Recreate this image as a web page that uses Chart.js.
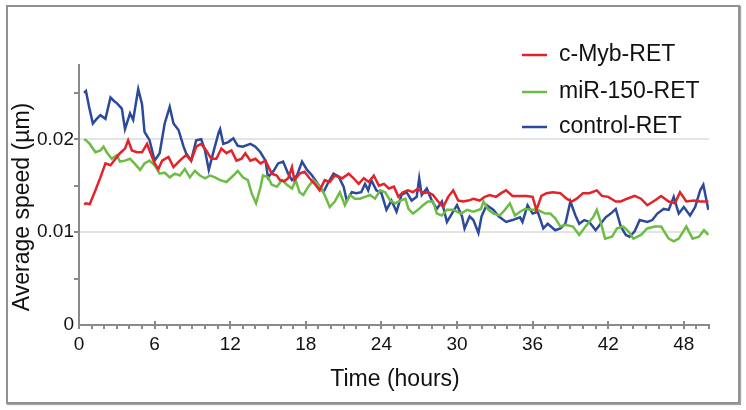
<!DOCTYPE html>
<html>
<head>
<meta charset="utf-8">
<script src="https://cdn.jsdelivr.net/npm/chart.js@4.4.1/dist/chart.umd.min.js"></script>
<style>
  html, body { margin: 0; padding: 0; background: #fff; }
  #frame { position: absolute; left: 6px; top: 5px; width: 730px; height: 395px;
           border: 2px solid #919191; box-shadow: 1px 1px 1px rgba(0,0,0,0.35); }
  #c { position: absolute; left: 0; top: 0; z-index: 2; }
</style>
</head>
<body>
<div id="frame"></div>
<canvas id="c" width="746" height="410"></canvas>
<script>
// ---- Data (time in hours, average speed in µm) ----
const seriesNames = ['c-Myb-RET', 'miR-150-RET', 'control-RET'];

const cMybHours = [0.4,0.55,0.85,1.3,1.7,2.1,2.5,2.9,3.25,3.65,3.9,4.2,4.6,5.0,5.4,5.6,6.0,6.3,6.6,7.1,7.5,8.0,8.5,8.9,9.3,9.7,10.1,10.5,10.9,11.3,11.7,12.1,12.5,12.9,13.2,13.6,14.0,14.4,14.8,15.3,15.7,15.95,16.3,16.6,16.9,17.1,17.5,17.9,18.3,18.7,19.1,19.5,19.9,20.3,20.9,21.4,21.8,22.2,22.6,23.0,23.4,23.8,24.2,24.6,25.0,25.35,25.7,26.1,26.5,26.9,27.3,27.7,28.1,28.5,28.9,29.3,29.7,30.1,30.5,30.9,31.3,31.8,32.2,32.6,33.1,33.5,33.9,34.4,35.0,35.5,36.0,36.3,36.7,37.1,37.6,38.2,38.7,39.1,39.5,40.0,40.5,41.1,41.5,42.0,42.6,43.0,43.5,44.1,44.6,45.1,45.7,46.2,46.8,47.3,47.7,48.2,48.8,49.3,49.95];
const cMybSpeed = [0.0130,0.0131,0.0130,0.0145,0.0159,0.0174,0.0172,0.0179,0.0185,0.0190,0.0199,0.0188,0.0186,0.0186,0.0195,0.0188,0.0174,0.0168,0.0177,0.0181,0.0170,0.0177,0.0183,0.0177,0.0192,0.0195,0.0188,0.0179,0.0179,0.0190,0.0185,0.0188,0.0177,0.0179,0.0185,0.0177,0.0179,0.0174,0.0177,0.0163,0.0161,0.0156,0.0155,0.0158,0.0170,0.0156,0.0163,0.0165,0.0158,0.0152,0.0145,0.0156,0.0154,0.0161,0.0158,0.0163,0.0158,0.0152,0.0158,0.0154,0.0161,0.0150,0.0152,0.0147,0.0149,0.0138,0.0143,0.0145,0.0143,0.0147,0.0142,0.0143,0.0140,0.0133,0.0127,0.0138,0.0145,0.0134,0.0133,0.0134,0.0136,0.0134,0.0138,0.0140,0.0138,0.0142,0.0145,0.0139,0.0139,0.0139,0.0138,0.0124,0.0139,0.0142,0.0143,0.0142,0.0136,0.0133,0.0136,0.0142,0.0142,0.0145,0.0139,0.0138,0.0133,0.0133,0.0136,0.0139,0.0136,0.0129,0.0134,0.0139,0.0133,0.0131,0.0143,0.0133,0.0134,0.0133,0.0133];

const mir150Hours = [0.4,0.55,0.85,1.3,1.7,1.95,2.2,2.6,3.0,3.25,3.65,4.05,4.4,4.85,5.2,5.6,6.0,6.4,6.8,7.2,7.6,8.0,8.4,8.8,9.2,9.6,10.0,10.4,10.8,11.2,11.7,12.25,12.6,13.0,13.4,13.7,14.05,14.4,14.6,15.0,15.3,15.7,16.1,16.5,16.9,17.2,17.5,17.8,18.2,18.6,19.0,19.4,19.9,20.3,20.7,21.1,21.5,21.9,22.3,22.7,23.1,23.5,23.9,24.3,24.7,25.1,25.5,25.9,26.15,26.5,26.9,27.3,27.7,28.1,28.4,28.8,29.2,29.7,30.3,30.8,31.3,31.9,32.1,32.5,32.9,33.4,33.8,34.2,34.6,35.0,35.4,35.9,36.4,37.0,37.4,37.8,38.2,38.6,39.2,39.7,40.2,40.8,41.1,41.4,41.75,42.3,42.7,43.2,43.6,44.0,44.6,45.1,45.7,46.2,46.8,47.2,47.6,48.2,48.7,49.2,49.6,49.95];
const mir150Speed = [0.0200,0.0199,0.0195,0.0186,0.0188,0.0192,0.0186,0.0179,0.0183,0.0176,0.0177,0.0179,0.0174,0.0167,0.0174,0.0177,0.0172,0.0163,0.0164,0.0159,0.0163,0.0161,0.0168,0.0159,0.0166,0.0161,0.0158,0.0161,0.0159,0.0156,0.0154,0.0161,0.0166,0.0159,0.0156,0.0142,0.0131,0.0148,0.0161,0.0159,0.0151,0.0149,0.0156,0.0151,0.0147,0.0156,0.0143,0.0140,0.0149,0.0156,0.0151,0.0143,0.0127,0.0133,0.0143,0.0129,0.0140,0.0136,0.0136,0.0138,0.0140,0.0136,0.0145,0.0143,0.0134,0.0131,0.0134,0.0136,0.0125,0.0120,0.0124,0.0129,0.0133,0.0133,0.0120,0.0118,0.0124,0.0124,0.0120,0.0124,0.0122,0.0125,0.0133,0.0124,0.0120,0.0118,0.0124,0.0131,0.0118,0.0122,0.0125,0.0124,0.0124,0.0120,0.0120,0.0115,0.0106,0.0108,0.0106,0.0097,0.0106,0.0116,0.0124,0.0111,0.0093,0.0095,0.0104,0.0106,0.0101,0.0093,0.0097,0.0104,0.0106,0.0106,0.0093,0.0090,0.0093,0.0106,0.0093,0.0095,0.0102,0.0097];

const controlHours = [0.4,0.55,0.8,1.1,1.4,1.7,2.1,2.5,2.8,3.0,3.4,3.65,4.05,4.3,4.7,5.0,5.2,5.6,6.0,6.4,6.8,7.2,7.5,7.9,8.3,8.5,8.9,9.3,9.7,10.0,10.3,10.7,11.1,11.2,11.45,11.85,12.25,12.6,13.0,13.6,14.0,14.4,14.8,15.0,15.45,15.8,16.2,16.6,16.9,17.3,17.7,18.1,18.5,19.0,19.4,19.8,20.2,20.6,21.0,21.25,21.65,22.0,22.4,22.7,22.95,23.2,23.6,24.0,24.4,24.8,25.2,25.6,26.0,26.4,26.8,27.0,27.2,27.6,28.0,28.4,28.8,29.2,29.6,30.0,30.4,30.6,31.0,31.3,31.7,31.95,32.35,32.9,33.3,33.9,34.4,35.0,35.2,35.6,36.0,36.4,36.85,37.2,37.8,38.2,38.6,39.0,39.4,39.7,40.1,40.5,41.0,41.4,41.8,42.2,42.6,43.0,43.4,43.7,44.1,44.5,45.1,45.5,45.9,46.4,46.8,47.2,47.6,48.0,48.5,48.9,49.3,49.55,49.95];
const controlSpeed = [0.0250,0.0252,0.0235,0.0217,0.0222,0.0226,0.0222,0.0245,0.0241,0.0239,0.0233,0.0211,0.0228,0.0221,0.0254,0.0238,0.0208,0.0199,0.0177,0.0185,0.0217,0.0235,0.0217,0.0210,0.0192,0.0185,0.0177,0.0199,0.0200,0.0188,0.0167,0.0188,0.0208,0.0211,0.0195,0.0197,0.0201,0.0193,0.0192,0.0195,0.0192,0.0186,0.0177,0.0159,0.0166,0.0174,0.0176,0.0163,0.0156,0.0161,0.0176,0.0167,0.0161,0.0151,0.0143,0.0154,0.0163,0.0160,0.0149,0.0134,0.0143,0.0142,0.0143,0.0152,0.0145,0.0156,0.0145,0.0142,0.0124,0.0134,0.0122,0.0140,0.0143,0.0134,0.0138,0.0158,0.0140,0.0147,0.0134,0.0125,0.0133,0.0111,0.0120,0.0129,0.0117,0.0104,0.0117,0.0113,0.0099,0.0117,0.0129,0.0124,0.0117,0.0111,0.0113,0.0116,0.0111,0.0129,0.0120,0.0122,0.0104,0.0109,0.0102,0.0104,0.0109,0.0133,0.0118,0.0109,0.0113,0.0111,0.0102,0.0109,0.0116,0.0120,0.0125,0.0106,0.0097,0.0095,0.0101,0.0113,0.0111,0.0113,0.0120,0.0125,0.0124,0.0138,0.0120,0.0127,0.0118,0.0127,0.0145,0.0151,0.0124];

const xTickLabels = [0, 6, 12, 18, 24, 30, 36, 42, 48];
const yTickLabels = [0, 0.01, 0.02];
const seriesColors = ['#e3222a', '#6dbd45', '#2c4a9c'];
const xTitle = 'Time (hours)';
const yTitle = 'Average speed (\u00B5m)';

function pts(h, v) { return h.map((x, i) => ({ x: x, y: v[i] })); }

const FONT = '"Liberation Sans", Arial, sans-serif';
const AXIS_COLOR = '#8a8a8a';

const decor = {
  id: 'decor',
  afterDraw(chart) {
    const ctx = chart.ctx;
    const xs = chart.scales.x, ys = chart.scales.y;
    ctx.save();
    ctx.strokeStyle = AXIS_COLOR;
    ctx.lineWidth = 2;
    for (let k = 1; k <= 5; k++) {
      const py = Math.round(ys.getPixelForValue(k * 0.005));
      ctx.beginPath(); ctx.moveTo(xs.left - 5, py); ctx.lineTo(xs.left, py); ctx.stroke();
    }
    for (let h = 0; h <= 50; h++) {
      const px = Math.round(xs.getPixelForValue(h));
      const major = h % 6 === 0;
      ctx.beginPath();
      ctx.moveTo(px, ys.bottom + (major ? -4 : 0));
      ctx.lineTo(px, ys.bottom + 4);
      ctx.stroke();
    }
    ctx.fillStyle = '#111';
    ctx.font = '23px ' + FONT;
    ctx.textAlign = 'center';
    ctx.textBaseline = 'middle';
    ctx.fillText(xTitle, 395, 380);
    ctx.save();
    ctx.translate(23, 207);
    ctx.rotate(-Math.PI / 2);
    ctx.fillText(yTitle, 0, 0);
    ctx.restore();
    const rows = [55, 92, 127];
    ctx.textAlign = 'left';
    seriesNames.forEach((name, i) => {
      ctx.strokeStyle = seriesColors[i];
      ctx.lineWidth = 2.5;
      ctx.beginPath(); ctx.moveTo(522, rows[i]); ctx.lineTo(547, rows[i]); ctx.stroke();
      ctx.fillStyle = '#111';
      ctx.fillText(name, 559, rows[i]);
    });
    ctx.restore();
  }
};

new Chart(document.getElementById('c'), {
  type: 'line',
  data: {
    datasets: [
      { label: seriesNames[0], data: pts(cMybHours, cMybSpeed), borderColor: seriesColors[0] },
      { label: seriesNames[1], data: pts(mir150Hours, mir150Speed), borderColor: seriesColors[1] },
      { label: seriesNames[2], data: pts(controlHours, controlSpeed), borderColor: seriesColors[2] }
    ].map(d => Object.assign(d, { borderWidth: 2.5, pointRadius: 0, tension: 0, fill: false }))
  },
  options: {
    responsive: false,
    devicePixelRatio: 1,
    animation: false,
    layout: { padding: { left: 0, top: 65, right: 37, bottom: 0 } },
    plugins: { legend: { display: false }, tooltip: { enabled: false } },
    scales: {
      x: {
        type: 'linear', min: 0, max: 50,
        afterFit: s => { s.height = 85; },
        border: { color: AXIS_COLOR, width: 2 },
        grid: { display: false, drawTicks: false },
        ticks: {
          stepSize: 1, autoSkip: false, maxRotation: 0, padding: 8,
          color: '#111', font: { family: FONT, size: 19 },
          callback: v => xTickLabels.includes(v) ? String(v) : ''
        }
      },
      y: {
        type: 'linear', min: 0, max: 0.028,
        afterFit: s => { s.width = 79; },
        border: { color: AXIS_COLOR, width: 2 },
        grid: {
          drawTicks: false,
          color: c => (c.tick && (Math.abs(c.tick.value - 0.01) < 1e-9 || Math.abs(c.tick.value - 0.02) < 1e-9)) ? '#e4e4e4' : 'rgba(0,0,0,0)',
          lineWidth: 2
        },
        ticks: {
          stepSize: 0.005, padding: 5,
          color: '#111', font: { family: FONT, size: 19 },
          callback: v => {
            const m = yTickLabels.find(t => Math.abs(t - v) < 1e-9);
            return m === undefined ? '' : String(m);
          }
        }
      }
    }
  },
  plugins: [decor]
});
</script>
</body>
</html>
